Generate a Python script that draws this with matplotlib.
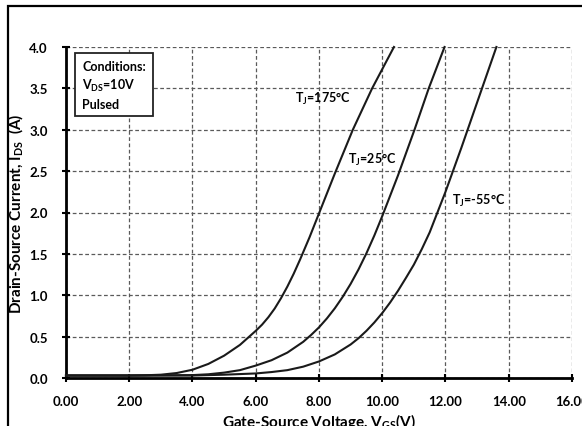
import matplotlib
matplotlib.use("Agg")
import matplotlib.pyplot as plt
from matplotlib.patches import Rectangle

plt.rcParams['font.family'] = ['Lato', 'DejaVu Sans']
plt.rcParams['font.weight'] = 'bold'
plt.rcParams['axes.labelweight'] = 'bold'
plt.rcParams['mathtext.fontset'] = 'custom'
plt.rcParams['mathtext.rm'] = 'Lato:bold'
plt.rcParams['mathtext.it'] = 'Lato:bold'
plt.rcParams['mathtext.bf'] = 'Lato:bold'

# transfer characteristics, Ids vs Vgs at three junction temperatures
vgs_175 = [0.0, 1.0, 2.0, 2.5, 3.0, 3.5, 4.0, 4.5, 5.0, 5.5, 6.0, 6.2, 6.4, 6.6, 6.8, 7.0, 7.2, 7.4,
           7.7, 7.97, 8.5, 9.07, 9.68, 10.37]
ids_175 = [0.03, 0.03, 0.03, 0.033, 0.04, 0.06, 0.10, 0.17, 0.27, 0.40, 0.57, 0.645, 0.735, 0.84, 0.965,
           1.105, 1.26, 1.43, 1.70, 1.96, 2.47, 3.0, 3.5, 4.0]

vgs_25 = [0.0, 2.0, 4.0, 4.5, 5.0, 5.5, 6.0, 6.5, 7.0, 7.5, 7.75, 8.0, 8.25, 8.5, 8.75, 9.0, 9.25, 9.5,
          9.75, 10.0, 10.5, 11.02, 11.47, 11.97]
ids_25 = [0.03, 0.03, 0.035, 0.045, 0.065, 0.095, 0.15, 0.215, 0.307, 0.437, 0.52, 0.612, 0.72, 0.842,
          0.981, 1.137, 1.312, 1.507, 1.722, 1.956, 2.45, 3.0, 3.5, 4.0]

vgs_m55 = [0.0, 2.0, 4.0, 5.0, 6.0, 6.5, 7.0, 7.5, 8.0, 8.5, 9.0, 9.25, 9.5, 9.75, 10.0, 10.25, 10.5,
           10.75, 11.0, 11.25, 11.5, 12.0, 12.5, 13.0, 13.61]
ids_m55 = [0.03, 0.03, 0.03, 0.04, 0.055, 0.072, 0.095, 0.137, 0.20, 0.285, 0.405, 0.481, 0.57, 0.671,
           0.785, 0.913, 1.055, 1.21, 1.37, 1.557, 1.76, 2.25, 2.78, 3.33, 4.0]

xticks = [0, 2, 4, 6, 8, 10, 12, 14, 16]
yticks = [0.0, 0.5, 1.0, 1.5, 2.0, 2.5, 3.0, 3.5, 4.0]

fig = plt.figure(figsize=(5.82, 4.27), dpi=100)
ax = fig.add_axes([0.1134, 0.1124, 0.8694, 0.7752])

for v, i in [(vgs_175, ids_175), (vgs_25, ids_25), (vgs_m55, ids_m55)]:
    ax.plot(v, i, color='#1a1a1a', lw=1.5, zorder=3, clip_on=False)

ax.set_xlim(0, 16)
ax.set_ylim(0, 4)
ax.set_xticks(xticks)
ax.set_yticks(yticks)
ax.set_xticklabels([f'{t:.2f}' for t in xticks])
ax.set_yticklabels([f'{t:.1f}' for t in yticks])
ax.tick_params(direction='inout', length=6, width=1.5, labelsize=9.5)
ax.tick_params(axis='y', pad=10)
ax.tick_params(axis='x', pad=9)

ax.grid(True, color='#5a5a5a', ls=(0, (3, 2)), lw=0.9)
for s in ['top', 'right']:
    ax.spines[s].set_visible(False)
for s in ['left', 'bottom']:
    ax.spines[s].set_linewidth(2)
    ax.spines[s].set_color('black')

ax.set_ylabel(r'Drain-Source Current, I$_{\mathrm{DS}}$  (A)', fontsize=11, labelpad=3)
ax.set_xlabel(r'Gate-Source Voltage, V$_{\mathrm{GS}}$(V)', fontsize=11, labelpad=3)

ax.text(7.25, 3.38, r'T$_{\mathrm{J}}$=175°C', fontsize=9, va='center', ha='left')
ax.text(8.92, 2.65, r'T$_{\mathrm{J}}$=25°C', fontsize=9, va='center', ha='left')
ax.text(12.2, 2.15, r'T$_{\mathrm{J}}$=-55°C', fontsize=9, va='center', ha='left')

ax.text(0.032, 0.962, 'Conditions:\n' + r'V$_{\mathrm{DS}}$=10V' + '\nPulsed', transform=ax.transAxes,
        fontsize=9, va='top', ha='left', linespacing=1.45,
        bbox=dict(boxstyle='square,pad=0.55', fc='white', ec='#222222', lw=1.3))

# outer border of the figure
fig.add_artist(Rectangle((8 / 582, -0.1), 1.0, 0.1 + 1 - 7 / 427, transform=fig.transFigure,
                         fill=False, ec='black', lw=1.6))

fig.savefig('out.png', dpi=100)
